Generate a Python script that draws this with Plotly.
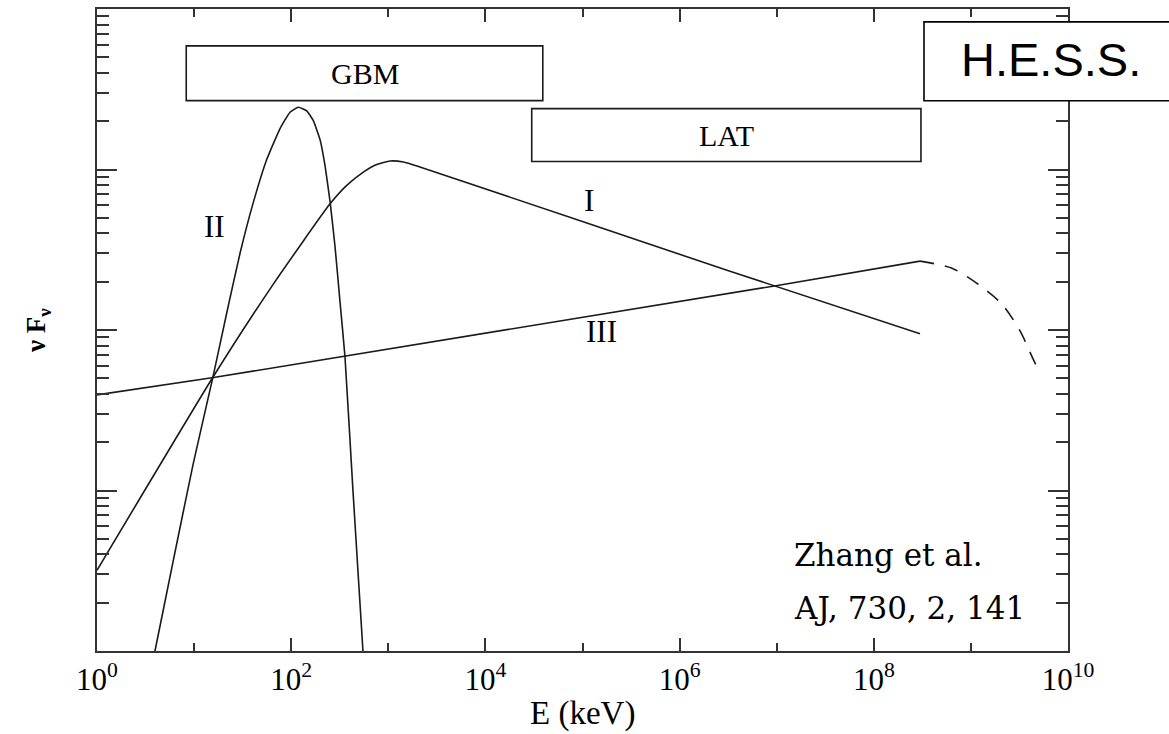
import numpy as np
import plotly.graph_objects as go

# ---- data (log10 of E in keV, log10 of nuF_nu in arbitrary units) ----
c1_logE = [0.0, 1.192, 1.816, 2.400, 2.572, 2.743, 2.881, 3.017, 3.155, 3.326, 6.519, 8.476]
c1_logF = [0.503, 1.704, 2.286, 2.786, 2.901, 2.984, 3.031, 3.053, 3.047, 3.016, 2.366, 1.977]

c2_logE = [0.530, 0.597, 0.786, 0.989, 1.192, 1.336, 1.473, 1.610, 1.748, 1.885, 1.988,
           2.073, 2.160, 2.228, 2.297, 2.348, 2.400, 2.451, 2.503, 2.554, 2.636, 2.739, 2.760]
c2_logF = [-0.2, 0.0, 0.565, 1.161, 1.702, 2.106, 2.478, 2.795, 3.062, 3.255, 3.357,
           3.388, 3.366, 3.304, 3.186, 3.025, 2.801, 2.522, 2.174, 1.832, 0.999, 0.0, -0.2]

c3_logE = [0.0, 1.184, 6.962, 8.476]
c3_logF = [1.596, 1.702, 2.273, 2.429]

c3cut_logE = [8.476, 8.805, 9.073, 9.320, 9.506, 9.640, 9.701]
c3cut_logF = [2.429, 2.385, 2.286, 2.161, 1.994, 1.820, 1.745]

# instrument bands (keV) and their vertical extent (arbitrary flux units)
gbm_E = [8.3, 3.9e4]
gbm_F = [10**3.429, 10**3.770]
lat_E = [3.0e4, 3.06e8]
lat_F = [10**3.050, 10**3.379]

x_tickvals = [1, 1e2, 1e4, 1e6, 1e8, 1e10]
x_ticktext = ["10<sup>0</sup>", "10<sup>2</sup>", "10<sup>4</sup>",
              "10<sup>6</sup>", "10<sup>8</sup>", "10<sup>10</sup>"]
x_minorvals = [10, 1e3, 1e5, 1e7, 1e9]
y_tickvals = [1, 10, 100, 1e3, 1e4]
y_minorvals = [m * 10**k for k in range(4) for m in range(2, 10)]

# curve labels (E in keV, F)
labels_text = ["I", "II", "III"]
labels_E = [10**5.067, 10**1.205, 10**5.2]
labels_F = [10**2.807, 10**2.646, 10**1.988]

LINE = "#1a1a1a"
AX = "#333333"
SERIF = "Liberation Serif, Times New Roman, serif"

def pw(a):
    return [10**v for v in a]

fig = go.Figure()
fig.add_trace(go.Scatter(x=pw(c1_logE), y=pw(c1_logF), mode="lines",
                         line=dict(color=LINE, width=1.6, shape="spline", smoothing=0.5),
                         showlegend=False, hoverinfo="skip"))
fig.add_trace(go.Scatter(x=pw(c2_logE), y=pw(c2_logF), mode="lines",
                         line=dict(color=LINE, width=1.6, shape="spline", smoothing=0.4),
                         showlegend=False, hoverinfo="skip"))
fig.add_trace(go.Scatter(x=pw(c3_logE), y=pw(c3_logF), mode="lines",
                         line=dict(color=LINE, width=1.6),
                         showlegend=False, hoverinfo="skip"))
fig.add_trace(go.Scatter(x=pw(c3cut_logE), y=pw(c3cut_logF), mode="lines",
                         line=dict(color=LINE, width=1.6, dash="14px,11px", shape="spline", smoothing=0.8),
                         showlegend=False, hoverinfo="skip"))

axis_common = dict(type="log", showgrid=False, zeroline=False, showline=True,
                   linecolor=AX, linewidth=1.5, mirror="allticks",
                   ticks="inside", tickwidth=1.5, tickcolor=AX)

fig.update_xaxes(**axis_common, range=[0, 10], tickmode="array",
                 tickvals=x_tickvals, ticktext=x_ticktext, ticklen=13,
                 tickfont=dict(family=SERIF, size=31, color="black"),
                 minor=dict(tickmode="array", tickvals=x_minorvals, ticks="inside",
                            ticklen=8, tickwidth=1.5, tickcolor=AX, showgrid=False))
fig.update_yaxes(**axis_common, range=[0, 4], tickmode="array",
                 tickvals=y_tickvals, showticklabels=False, ticklen=20,
                 minor=dict(tickmode="array", tickvals=y_minorvals, ticks="inside",
                            ticklen=12, tickwidth=1.5, tickcolor=AX, showgrid=False))

shapes = []
for E, F in [(gbm_E, gbm_F), (lat_E, lat_F)]:
    shapes.append(dict(type="rect", xref="x", yref="y",
                       x0=E[0], x1=E[1], y0=F[0], y1=F[1],
                       line=dict(color=LINE, width=1.6), fillcolor="rgba(0,0,0,0)"))
shapes.append(dict(type="rect", xref="paper", yref="paper",
                   x0=0.8517, x1=1.12, y0=0.857, y1=0.980, layer="above",
                   line=dict(color="black", width=1.6), fillcolor="white"))

def ann(**kw):
    d = dict(showarrow=False, xanchor="center", yanchor="middle")
    d.update(kw)
    return d

annotations = []
for t, E, F in zip(labels_text, labels_E, labels_F):
    annotations.append(ann(x=np.log10(E), y=np.log10(F), xref="x", yref="y", text=t,
                           font=dict(family=SERIF, size=31, color="black")))
annotations.append(ann(x=np.mean(np.log10(gbm_E)), y=np.mean(np.log10(gbm_F)),
                       xref="x", yref="y", text="GBM",
                       font=dict(family=SERIF, size=30, color="black")))
annotations.append(ann(x=np.mean(np.log10(lat_E)), y=np.mean(np.log10(lat_F)),
                       xref="x", yref="y", text="LAT",
                       font=dict(family=SERIF, size=30, color="black")))
annotations.append(ann(x=0.9825, y=0.922, xref="paper", yref="paper", text="H.E.S.S.",
                       font=dict(family="Liberation Sans, Arial, sans-serif", size=47, color="black")))
annotations.append(ann(x=0.7158, y=0.149, xref="paper", yref="paper", xanchor="left",
                       text="Zhang et al.",
                       font=dict(family="DejaVu Serif, serif", size=31, color="black")))
annotations.append(ann(x=0.7158, y=0.0675, xref="paper", yref="paper", xanchor="left",
                       text="AJ, 730, 2, 141",
                       font=dict(family="DejaVu Serif, serif", size=31, color="black")))
annotations.append(ann(x=0.5, y=-0.097, xref="paper", yref="paper", text="E (keV)",
                       font=dict(family=SERIF, size=33, color="black")))
annotations.append(ann(x=-0.0608, y=0.5, xref="paper", yref="paper", textangle=-90,
                       text="<b>ν F<sub>ν</sub></b>",
                       font=dict(family=SERIF, size=27, color="black")))

fig.update_layout(width=1169, height=734,
                  margin=dict(l=97, r=101, t=7, b=83),
                  paper_bgcolor="white", plot_bgcolor="white",
                  shapes=shapes, annotations=annotations, showlegend=False)

fig.write_html("out.html")
